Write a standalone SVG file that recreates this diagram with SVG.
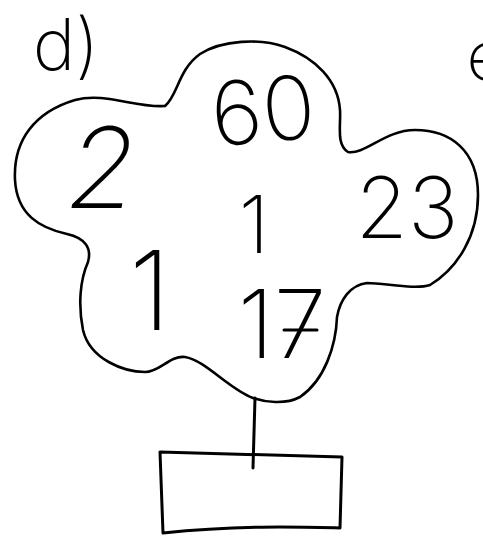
<svg xmlns="http://www.w3.org/2000/svg" width="483" height="536" viewBox="0 0 483 536">
<style>
.ink{fill:none;stroke:#000;stroke-linecap:round;stroke-linejoin:round}
.t{font-family:Inter,"Open Sans","Liberation Sans",sans-serif;font-weight:200;fill:#000;text-anchor:middle}
</style>
<rect width="483" height="536" fill="#fff"/>
<g id="labels">
<text class="t" x="66" y="70" font-size="72">d)</text>
<text class="t" x="486" y="80" font-size="68">e</text>
</g>
<g id="cloud">
<path class="ink" stroke-width="2.6" d="M165,106 C178,95 178,70 200,54 C222,40 260,38 285,47 C315,58 338,80 340,110 C341,125 336,145 348,152 C365,155 385,130 415,130 C450,130 478,150 478,195 C478,235 458,268 430,285 C415,290 385,283 367,283 C350,285 340,300 337,317 C336,345 325,380 300,397 C285,405 265,402 253,398 C230,390 205,360 185,357 C170,355 160,372 145,372 C125,372 90,360 83,330 C78,305 80,280 88,262 C92,248 85,238 67,234 C40,228 17,215 15,180 C13,140 35,112 75,100 C105,92 135,108 165,106 Z"/>
<text class="t" x="263" y="142" font-size="88" transform="rotate(-5 263 110)">60</text>
<text class="t" x="97" y="208" font-size="112" transform="skewX(-10) translate(36 0)">2</text>
<text class="t" x="254" y="253" font-size="80">1</text>
<text class="t" x="407" y="238" font-size="85">23</text>
<text class="t" x="150" y="330" font-size="110">1</text>
<text class="t" x="282" y="358" font-size="95">17</text>
<line class="ink" stroke-width="3" x1="284" y1="330" x2="317" y2="330"/>
</g>
<g id="box">
<path class="ink" stroke-width="3" d="M160,452 L342,457 L340,528 C300,527 240,525 163,533 Z"/>
</g>
<g id="connectors">
<line class="ink" stroke-width="3" x1="255" y1="398" x2="253" y2="468"/>
</g>
</svg>
